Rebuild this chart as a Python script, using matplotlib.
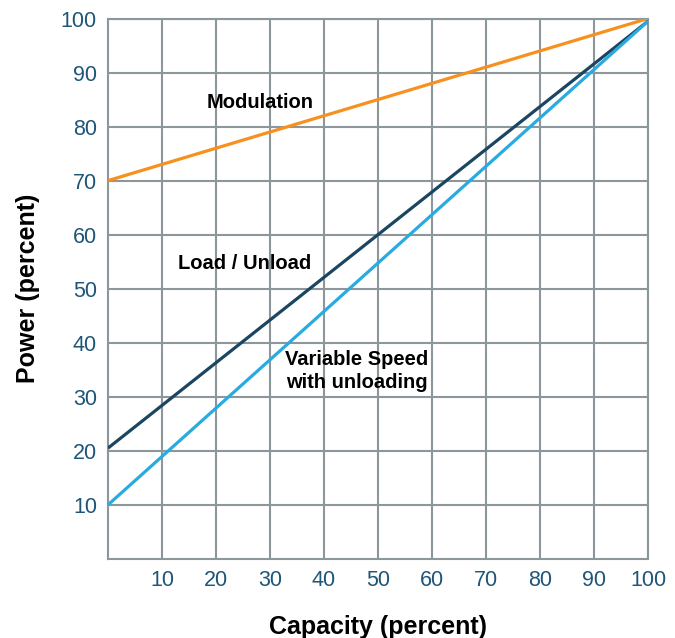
import matplotlib
matplotlib.use("Agg")
import matplotlib.pyplot as plt

plt.rcParams['font.family'] = ['Liberation Sans', 'DejaVu Sans']

capacity = [0, 100]
modulation = [70, 100]
load_unload = [20.5, 99.5]
variable_speed = [10, 99.5]
ticks = [10, 20, 30, 40, 50, 60, 70, 80, 90, 100]

grid_color = '#8c979c'
tick_color = '#1f5577'

fig = plt.figure(figsize=(6.75, 6.38), dpi=100)
ax = fig.add_axes([0.16, 0.124, 0.8, 0.847])

ax.plot(capacity, modulation, color='#f7901e', lw=2.3, solid_capstyle='butt', zorder=3)
ax.plot(capacity, load_unload, color='#1b4662', lw=2.3, solid_capstyle='butt', zorder=3)
ax.plot(capacity, variable_speed, color='#29aae1', lw=2.3, solid_capstyle='butt', zorder=3)

ax.set_xlim(0, 100)
ax.set_ylim(0, 100)
ax.set_xticks(ticks)
ax.set_yticks(ticks)
ax.grid(True, color=grid_color, lw=1.5)
ax.set_axisbelow(True)
for s in ax.spines.values():
    s.set_color(grid_color)
    s.set_linewidth(1.5)
ax.tick_params(length=0, labelsize=15.5, labelcolor=tick_color, pad=8)

ax.text(28.2, 84.5, 'Modulation', fontsize=14.5, fontweight='bold', ha='center', va='center')
ax.text(25.3, 54.6, 'Load / Unload', fontsize=14.5, fontweight='bold', ha='center', va='center')
ax.text(46, 34.8, 'Variable Speed\nwith unloading', fontsize=14.5, fontweight='bold',
        ha='center', va='center', linespacing=1.3)

ax.set_xlabel('Capacity (percent)', fontsize=18, fontweight='bold', labelpad=17)
ax.set_ylabel('Power (percent)', fontsize=18, fontweight='bold', labelpad=15)

fig.savefig('out.png', dpi=100)
